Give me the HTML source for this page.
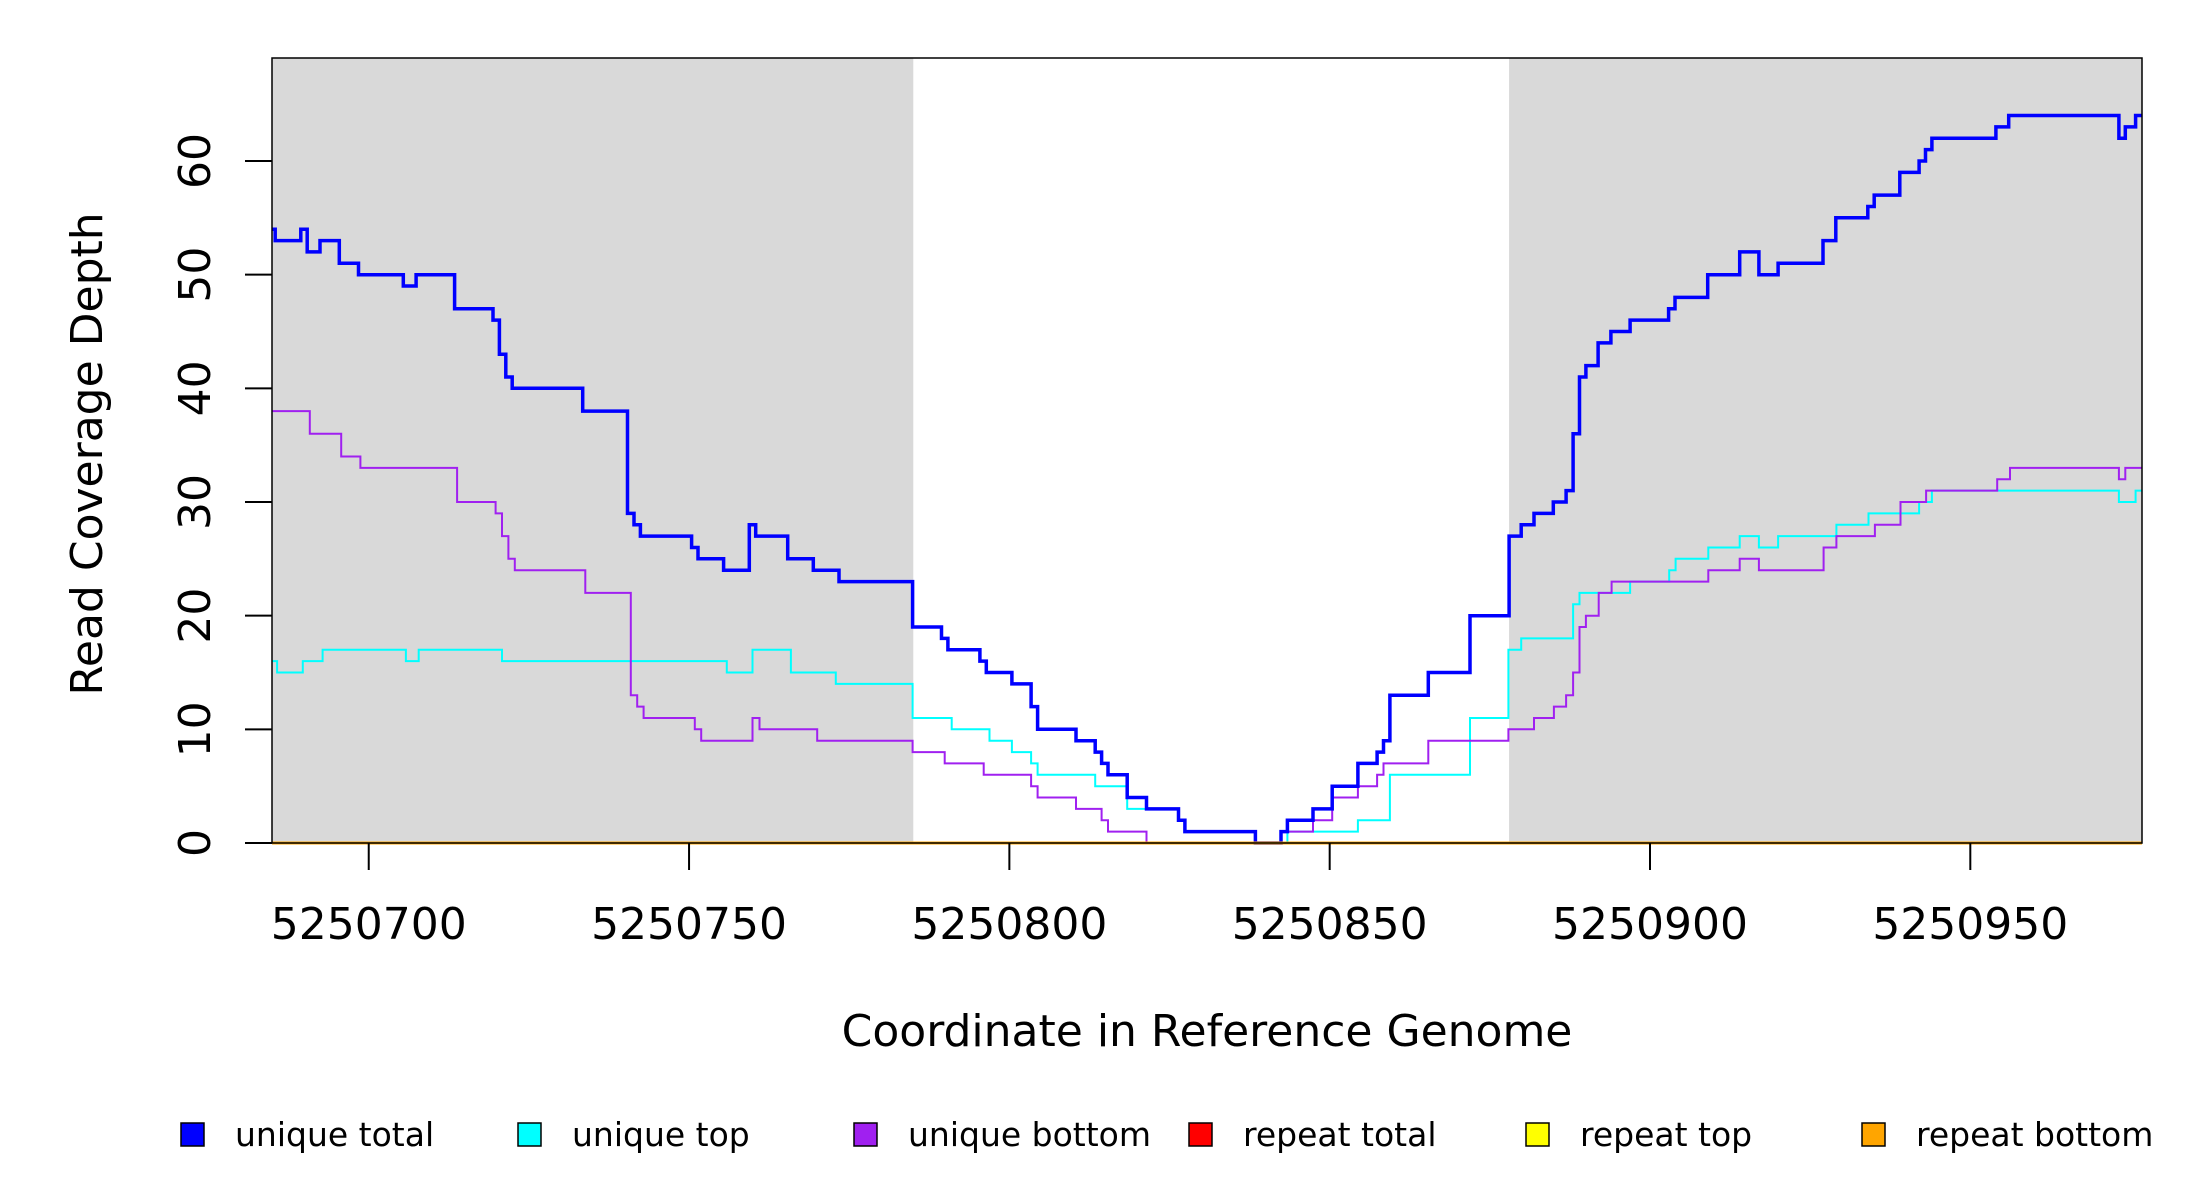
<!DOCTYPE html>
<html><head><meta charset="utf-8"><style>
html,body{margin:0;padding:0;background:#fff;}
svg{display:block;font-family:"DejaVu Sans","Liberation Sans",sans-serif;}
</style></head><body>
<svg id="chart" width="2200" height="1200" viewBox="0 0 2200 1200" xmlns="http://www.w3.org/2000/svg">
<g id="bg"></g>
<g id="series"></g>
<rect x="272" y="58" width="1870" height="785" fill="none" stroke="#000" stroke-width="1.5"/>
<g id="axes"></g>
<text x="0" y="0" font-size="44" text-anchor="middle" transform="translate(102,454) rotate(-90)">Read Coverage Depth</text>
<text x="1207" y="1046" font-size="44" text-anchor="middle">Coordinate in Reference Genome</text>
<g id="legend"></g>
</svg>
<script>
const xBase = 5250000;
const xDomain = [684.9, 976.8];
const yDomain = [0, 69.06];
const xTicks = [700, 750, 800, 850, 900, 950];
const xTickLabels = ["5250700","5250750","5250800","5250850","5250900","5250950"];
const yTicks = [0, 10, 20, 30, 40, 50, 60];
const shadedRegions = [[684.9, 785.0], [878.0, 976.8]];
const positionShift = -0.6;

const totalPos = [685,686,690,691,693,696,699,706,708,714,720,721,722,723,734,741,742,743,751,752,756,760,761,766,770,774,785.5,790,791,796,797,801,804,805,811,814,815,816,819,822,827,828,839,843,844,848,851,855,858,859,860,866,872.5,878.6,880.5,882.5,885.5,887.5,888.6,889.6,890.6,892.5,894.5,897.5,903.5,904.5,909.6,914.6,917.6,920.6,927.6,929.6,934.6,935.6,939.6,942.6,943.6,944.6,954.6,956.6,973.8,974.8,976.4];
const totalVal = [54,53,54,52,53,51,50,49,50,47,46,43,41,40,38,29,28,27,26,25,24,28,27,25,24,23,19,18,17,16,15,14,12,10,9,8,7,6,4,3,2,1,0,1,2,3,5,7,8,9,13,15,20,27,28,29,30,31,36,41,42,44,45,46,47,48,50,52,50,51,53,55,56,57,59,60,61,62,63,64,62,63,64];

const topPos = [685,686.3,690.3,693.4,706.4,708.4,721.4,756.5,760.5,766.5,773.5,785.5,791.6,797.5,801,804,805,814,819,827,828,839,844,855,860,872.5,878.5,880.5,888.6,889.6,897.5,903.6,904.6,909.7,914.6,917.6,920.6,929.7,934.7,942.6,944.6,973.8,976.4];
const topVal = [16,15,16,17,16,17,16,15,17,15,14,11,10,9,8,7,6,5,3,2,1,0,1,2,6,11,17,18,21,22,23,24,25,26,27,26,27,28,29,30,31,30,31];

const bottomPos = [685,691.4,696.3,699.3,714.4,720.4,721.4,722.4,723.4,734.4,741.5,742.5,743.5,751.5,752.5,760.5,761.6,770.6,785.5,790.5,796.6,804,805,811,815,816,822,843,848,851,855,858,859,866,878.5,882.5,885.6,887.5,888.6,889.6,890.6,892.6,894.6,909.7,914.6,917.6,927.7,929.7,935.7,939.7,943.7,954.8,956.8,973.8,974.8];
const bottomVal = [38,36,34,33,30,29,27,25,24,22,13,12,11,10,9,11,10,9,8,7,6,5,4,3,2,1,0,1,2,4,5,6,7,9,10,11,12,13,15,19,20,22,23,24,25,24,26,27,28,30,31,32,33,32,33];

const repeatPos = [685.5];
const repeatTotalVal = [0];
const repeatTopVal = [0];
const repeatBottomVal = [0];

const legendLabels = ["unique total","unique top","unique bottom","repeat total","repeat top","repeat bottom"];
const legendColors = ["#0000ff","#00ffff","#a020f0","#ff0000","#ffff00","#ffa500"];

const PL=272, PR=2142, PT=58, PB=843;
function sx(v){return PL+(v-xDomain[0])/(xDomain[1]-xDomain[0])*(PR-PL);}
function sy(v){return PB-(v-yDomain[0])/(yDomain[1]-yDomain[0])*(PB-PT);}
function clampX(px){return Math.max(PL,Math.min(PR,px));}
const NS="http://www.w3.org/2000/svg";
function mk(tag,attrs,parent){const e=document.createElementNS(NS,tag);for(const k in attrs)e.setAttribute(k,attrs[k]);parent.appendChild(e);return e;}

const bg=document.getElementById('bg');
shadedRegions.forEach((r,i)=>{
  const el=mk('rect',{x:sx(r[0]),y:PT,width:sx(r[1])-sx(r[0]),height:PB-PT,fill:'#d9d9d9'},bg);
  
  
});

function stepPath(pos,val){
  let d='';
  for(let i=0;i<pos.length;i++){
    const x0=clampX(sx(pos[i]+positionShift));
    const x1=i+1<pos.length?clampX(sx(pos[i+1]+positionShift)):PR;
    const y=sy(val[i]);
    d+=(i===0?'M':'L')+x0.toFixed(1)+','+y.toFixed(1)+'L'+x1.toFixed(1)+','+y.toFixed(1);
  }
  return d;
}
const sg=document.getElementById('series');
const seriesDefs=[
  ['line-unique-top',topPos,topVal,'#00ffff',2],
  ['line-unique-bottom',bottomPos,bottomVal,'#a020f0',2],
  ['line-unique-total',totalPos,totalVal,'#0000ff',3.5],
  ['line-repeat-total',repeatPos,repeatTotalVal,'#ff0000',3],
  ['line-repeat-top',repeatPos,repeatTopVal,'#ffff00',3],
  ['line-repeat-bottom',repeatPos,repeatBottomVal,'#ffa500',3]
];
seriesDefs.forEach(s=>{
  const p=mk('path',{d:stepPath(s[1],s[2]),fill:'none',stroke:s[3],'stroke-width':s[4]},sg);
  
  
});

const ax=document.getElementById('axes');
xTicks.forEach((t,i)=>{
  const x=sx(t);
  const l=mk('line',{x1:x,x2:x,y1:PB,y2:PB+27,stroke:'#000','stroke-width':2},ax);
  
  
  const tx=mk('text',{x:x,y:939,'font-size':44,'text-anchor':'middle'},ax);
  tx.textContent=xTickLabels[i];
  
  
});
yTicks.forEach(t=>{
  const y=sy(t);
  const l=mk('line',{x1:PL-27,x2:PL,y1:y,y2:y,stroke:'#000','stroke-width':2},ax);
  
  
  const tx=mk('text',{x:0,y:0,'font-size':44,'text-anchor':'middle',transform:'translate(210,'+y+') rotate(-90)'},ax);
  tx.textContent=String(t);
  
  
});

const lg=document.getElementById('legend');
const legX=[181,518,854,1189,1526,1862];
legendLabels.forEach((lab,i)=>{
  const g=mk('g',{},lg);
  
  
  const r=mk('rect',{x:legX[i],y:1123,width:23,height:23,fill:legendColors[i],stroke:'#000','stroke-width':1.5},g);
  
  
  const t=mk('text',{x:legX[i]+54,y:1146,'font-size':33},g);
  t.textContent=lab;
  
  
});
</script>
</body></html>
